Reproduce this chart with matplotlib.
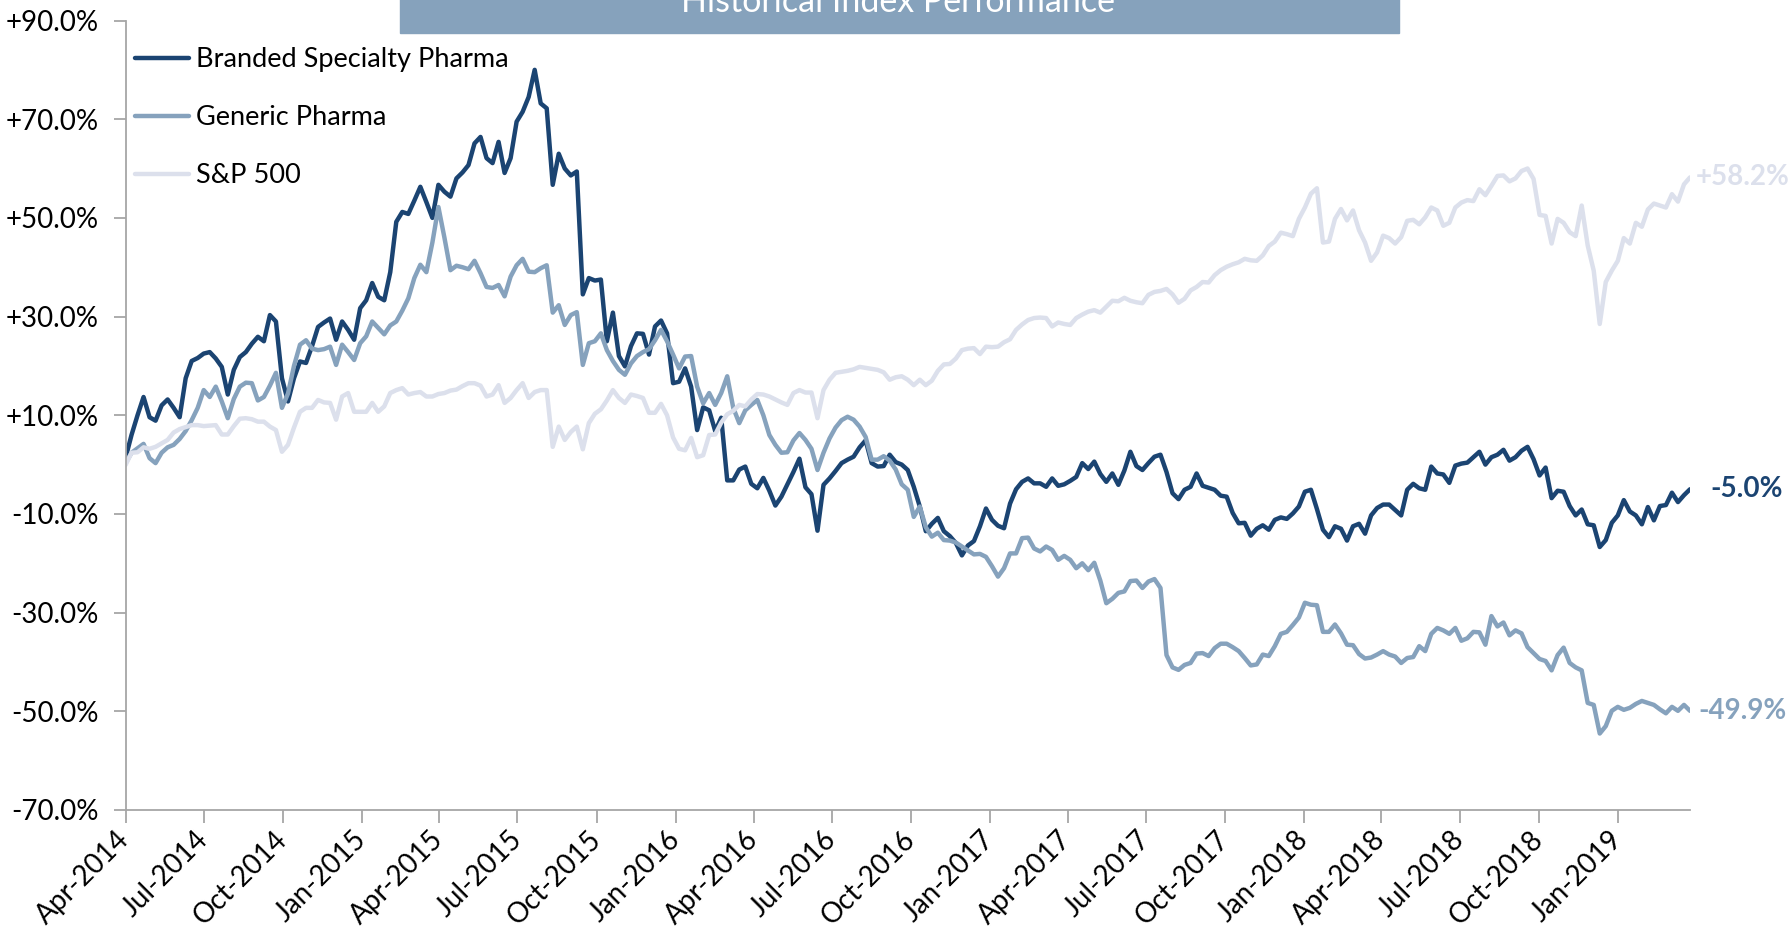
import matplotlib
matplotlib.use('Agg')
import matplotlib.pyplot as plt
import matplotlib.dates as mdates
from matplotlib.ticker import FuncFormatter
from matplotlib.patches import Rectangle
import pandas as pd

plt.rcParams['font.family'] = ['Lato', 'DejaVu Sans']

# ---------------- data (weekly, cumulative % change) ----------------
start_date = '2014-04-01'
title = 'Historical Index Performance'
series_names = ['Branded Specialty Pharma', 'Generic Pharma', 'S&P 500']
end_labels = ['-5.0%', '-49.9%', '+58.2%']
y_ticks = [-70, -50, -30, -10, 10, 30, 50, 70, 90]

branded = [
    1.3, 6.0, 10.0, 13.7, 9.6, 8.9, 12.0, 13.2, 11.5, 9.6,
    17.5, 21.0, 21.6, 22.5, 22.8, 21.5, 19.8, 14.2, 19.2, 21.8,
    22.8, 24.5, 25.9, 25.0, 30.3, 29.0, 17.5, 12.8, 17.5, 20.9,
    20.6, 24.0, 27.9, 28.8, 29.6, 25.3, 29.0, 27.3, 25.3, 31.7,
    33.3, 36.8, 34.0, 33.3, 39.0, 49.2, 51.2, 50.8, 53.5, 56.3,
    53.2, 50.0, 56.7, 55.3, 54.3, 58.0, 59.2, 60.7, 65.1, 66.4,
    62.1, 61.1, 65.4, 59.1, 62.1, 69.5, 71.5, 74.5, 80.0, 73.2,
    72.2, 56.7, 63.0, 60.0, 58.6, 59.4, 34.5, 37.8, 37.3, 37.5,
    25.0, 30.8, 22.0, 19.9, 24.0, 26.6, 26.5, 22.3, 28.0, 29.2,
    26.6, 16.5, 16.8, 19.5, 15.8, 7.0, 11.6, 11.0, 6.8, 9.5,
    -3.2, -3.2, -1.0, -0.4, -3.9, -4.8, -2.7, -5.3, -8.3, -6.5,
    -4.0, -1.5, 1.2, -4.6, -6.0, -13.4, -4.1, -2.8, -1.3, 0.3,
    1.0, 1.6, 3.5, 4.9, 0.3, -0.4, -0.3, 2.0, 0.5, 0.0,
    -1.1, -4.5, -8.5, -13.5, -12.0, -10.8, -13.5, -14.5, -15.9, -18.4,
    -16.4, -15.5, -12.5, -8.9, -11.2, -12.4, -12.9, -7.9, -5.0, -3.5,
    -2.8, -3.8, -3.8, -4.5, -2.8, -4.3, -4.0, -3.3, -2.5, 0.3,
    -0.9, 0.6, -1.9, -3.5, -1.8, -4.1, -1.2, 2.6, -0.3, -1.1,
    0.3, 1.6, 2.0, -1.5, -5.8, -7.0, -5.1, -4.5, -1.8, -4.3,
    -4.7, -5.1, -6.3, -6.5, -9.8, -11.9, -11.8, -14.4, -13.0, -12.3,
    -13.2, -11.2, -10.7, -11.0, -9.9, -8.5, -5.5, -5.1, -9.0, -13.2,
    -14.7, -12.5, -13.0, -15.4, -12.5, -12.0, -14.0, -10.3, -8.8, -8.1,
    -8.1, -9.2, -10.3, -5.1, -3.9, -4.8, -5.1, -0.4, -1.8, -2.0,
    -3.7, -0.2, 0.2, 0.4, 1.5, 2.6, 0.0, 1.5, 2.0, 3.0,
    0.8, 1.5, 2.8, 3.6, 1.1, -2.2, -0.6, -6.8, -5.3, -5.5,
    -8.4, -10.3, -9.1, -12.1, -12.3, -16.7, -15.3, -11.8, -10.3, -7.2,
    -9.5, -10.3, -12.1, -8.6, -11.3, -8.4, -8.2, -5.7, -7.6, -6.2,
    -5.0,
]

generic = [
    0.3, 2.4, 3.3, 4.2, 1.3, 0.3, 2.4, 3.5, 4.0, 5.2,
    6.8, 9.0, 11.5, 15.1, 13.7, 15.8, 12.8, 9.4, 13.3, 15.8,
    16.6, 16.5, 13.0, 13.7, 16.0, 18.6, 11.5, 14.4, 20.0, 24.3,
    25.2, 23.5, 23.2, 23.4, 23.9, 20.2, 24.3, 22.8, 21.2, 24.6,
    26.0, 29.0, 27.7, 26.4, 28.2, 29.0, 31.2, 33.7, 37.8, 40.5,
    39.0, 45.0, 52.2, 46.0, 39.4, 40.3, 40.0, 39.6, 41.3, 38.8,
    36.0, 35.8, 36.4, 34.1, 38.1, 40.4, 41.7, 39.1, 39.0, 39.8,
    40.4, 30.8, 32.3, 28.3, 30.3, 30.9, 20.2, 24.6, 25.0, 26.6,
    23.2, 21.0, 19.2, 18.2, 20.5, 22.0, 22.8, 23.4, 25.2, 27.3,
    25.0, 22.3, 19.5, 21.9, 22.0, 15.8, 12.4, 14.5, 12.1, 14.5,
    17.9, 11.5, 8.4, 11.0, 12.1, 13.1, 10.0, 6.0, 4.0, 2.4,
    2.5, 4.9, 6.4, 5.0, 3.2, -1.1, 2.4, 5.3, 7.5, 9.0,
    9.7, 9.1, 7.7, 5.6, 1.0, 1.0, 1.7, 0.8, -1.0, -4.0,
    -5.1, -10.6, -8.5, -12.7, -14.6, -13.8, -15.3, -15.4, -15.8, -16.6,
    -17.4, -18.2, -18.1, -18.7, -20.6, -22.7, -21.0, -18.0, -18.0, -14.9,
    -14.8, -17.0, -17.6, -16.6, -17.3, -19.3, -18.5, -19.3, -21.0, -20.0,
    -21.4, -19.9, -23.5, -28.1, -27.2, -26.0, -25.7, -23.6, -23.5, -25.0,
    -23.7, -23.2, -25.0, -38.6, -41.1, -41.6, -40.6, -40.2, -38.3, -38.2,
    -38.8, -37.2, -36.3, -36.3, -37.0, -37.8, -39.2, -40.7, -40.5, -38.5,
    -38.8, -36.8, -34.3, -33.9, -32.5, -31.0, -28.0, -28.4, -28.5, -33.9,
    -33.9, -32.4, -34.2, -36.5, -36.6, -38.4, -39.3, -39.1, -38.5, -37.8,
    -38.5, -38.9, -40.2, -39.2, -39.0, -36.8, -37.8, -34.3, -33.1, -33.6,
    -34.3, -33.1, -35.7, -35.2, -33.9, -34.0, -36.5, -30.7, -32.8, -32.0,
    -34.6, -33.6, -34.2, -37.0, -38.2, -39.4, -39.8, -41.7, -38.6, -37.1,
    -40.2, -41.1, -41.7, -48.3, -48.7, -54.5, -53.0, -49.9, -49.1, -49.7,
    -49.3, -48.5, -47.9, -48.3, -48.7, -49.6, -50.4, -49.1, -49.9, -48.7,
    -49.9,
]

sp500 = [
    -0.1, 2.4, 2.5, 3.5, 3.2, 3.6, 4.3, 5.0, 6.5, 7.2,
    7.6, 8.0, 8.0, 7.8, 7.9, 8.0, 6.1, 6.1, 7.8, 9.3,
    9.4, 9.2, 8.7, 8.7, 7.7, 7.0, 2.6, 4.0, 7.5, 10.7,
    11.5, 11.5, 13.1, 12.6, 12.5, 9.1, 13.8, 14.5, 10.7, 10.7,
    10.7, 12.5, 10.7, 11.8, 14.5, 15.1, 15.5, 14.2, 14.5, 14.7,
    13.8, 13.8, 14.3, 14.5, 15.0, 15.2, 15.9, 16.5, 16.5, 16.0,
    13.8, 14.2, 16.1, 12.5, 13.5, 15.1, 16.5, 13.5, 14.7, 15.1,
    15.1, 3.6, 7.7, 5.0, 6.6, 7.7, 3.1, 8.4, 10.3, 11.2,
    13.0, 15.1, 13.5, 12.5, 14.2, 13.9, 13.5, 10.5, 10.5, 12.3,
    10.0, 5.5, 3.2, 2.9, 5.4, 1.5, 1.9, 6.0, 6.1, 8.5,
    10.2, 10.9, 12.1, 11.8, 13.2, 14.3, 14.2, 13.8, 13.2, 12.6,
    12.1, 14.5, 15.1, 14.6, 14.6, 9.4, 15.1, 17.2, 18.6, 18.8,
    19.0, 19.3, 19.8, 19.6, 19.4, 19.2, 18.7, 17.2, 17.7, 17.9,
    17.2, 16.1, 17.2, 16.1, 17.0, 19.0, 20.3, 20.4, 21.5, 23.2,
    23.5, 23.6, 22.4, 23.9, 23.8, 23.9, 24.8, 25.4, 27.3, 28.4,
    29.3, 29.7, 29.8, 29.7, 28.0, 28.8, 28.5, 28.3, 29.7, 30.4,
    31.0, 31.3, 30.8, 32.0, 33.2, 33.1, 33.8, 33.2, 32.9, 32.7,
    34.4, 35.0, 35.2, 35.6, 34.5, 32.8, 33.6, 35.3, 36.0, 37.0,
    36.9, 38.4, 39.4, 40.1, 40.6, 41.0, 41.7, 41.4, 41.3, 42.4,
    44.3, 45.2, 47.0, 46.7, 46.3, 49.8, 52.1, 54.9, 56.0, 45.0,
    45.2, 49.8, 51.8, 49.5, 51.5, 47.5, 45.0, 41.3, 43.0, 46.4,
    45.9, 44.8, 46.1, 49.4, 49.6, 48.7, 50.1, 52.1, 51.5, 48.4,
    49.0, 52.1, 53.1, 53.6, 53.4, 55.8, 54.6, 56.5, 58.5, 58.6,
    57.4, 58.0, 59.5, 60.0, 57.9, 50.6, 50.4, 44.8, 49.8, 49.0,
    47.1, 46.3, 52.5, 44.4, 39.3, 28.5, 37.0, 39.3, 41.3, 45.9,
    44.8, 49.0, 48.2, 51.7, 52.9, 52.5, 52.1, 54.8, 53.3, 56.8,
    58.2,
]

# ---------------- figure ----------------
W, H = 1789, 926
fig = plt.figure(figsize=(W / 100, H / 100), dpi=100)
ax = fig.add_axes([125.5 / W, 1 - 810 / H, (1690 - 125.5) / W, (810 - 20.5) / H])

dates = pd.date_range(start_date, periods=len(branded), freq='7D')
colors = ['#1B4472', '#86A2BD', '#DCE0EC']
offsets = [15, 6, 4]
all_series = [branded, generic, sp500]

lines = []
for vals, name, c in zip(all_series, series_names, colors):
    ln, = ax.plot(dates, vals, color=c, lw=3.2, label=name,
                  solid_joinstyle='round', solid_capstyle='round')
    lines.append(ln)

for vals, lab, c, off in zip(all_series, end_labels, colors, offsets):
    ax.annotate(lab, xy=(dates[-1], vals[-1]), xytext=(off, 0),
                textcoords='offset points', va='center', ha='left',
                fontsize=20, fontweight='bold', color=c, annotation_clip=False)

ax.set_ylim(-70, 90)
ax.set_yticks(y_ticks)
ax.yaxis.set_major_formatter(FuncFormatter(lambda v, p: f"{v:+.1f}%"))
ax.set_xlim(dates[0], dates[-1])
ax.xaxis.set_major_locator(mdates.MonthLocator(bymonth=[1, 4, 7, 10]))
ax.xaxis.set_major_formatter(mdates.DateFormatter('%b-%Y'))

for s in ['top', 'right']:
    ax.spines[s].set_visible(False)
for s in ['left', 'bottom']:
    ax.spines[s].set_color('#A6A6A6')
    ax.spines[s].set_linewidth(1.3)

ax.tick_params(axis='both', direction='out', length=9, width=1.3,
               color='#A6A6A6', labelsize=20, labelcolor='black')
ax.tick_params(axis='y', pad=10)
ax.tick_params(axis='x', pad=9)
for lbl in ax.get_xticklabels():
    lbl.set_rotation(45)
    lbl.set_ha('right')
    lbl.set_va('center')
    lbl.set_rotation_mode('anchor')

ax.legend(handles=lines, loc='upper left', bbox_to_anchor=(0.006, 0.966),
          frameon=False, fontsize=19.5, handlelength=2.0, handletextpad=0.25,
          labelspacing=1.22, borderpad=0, borderaxespad=0)

# title banner (partially cut at top, as in the source)
fig.patches.append(Rectangle((400 / W, 1 - 32.5 / H), (1399 - 400) / W, 40 / H,
                             transform=fig.transFigure, color='#86A2BC', zorder=0))
fig.text(898 / W, 1 - 12 / H, title, ha='center', va='baseline',
         color='white', fontsize=24.5)

fig.savefig('out.png', dpi=100)
